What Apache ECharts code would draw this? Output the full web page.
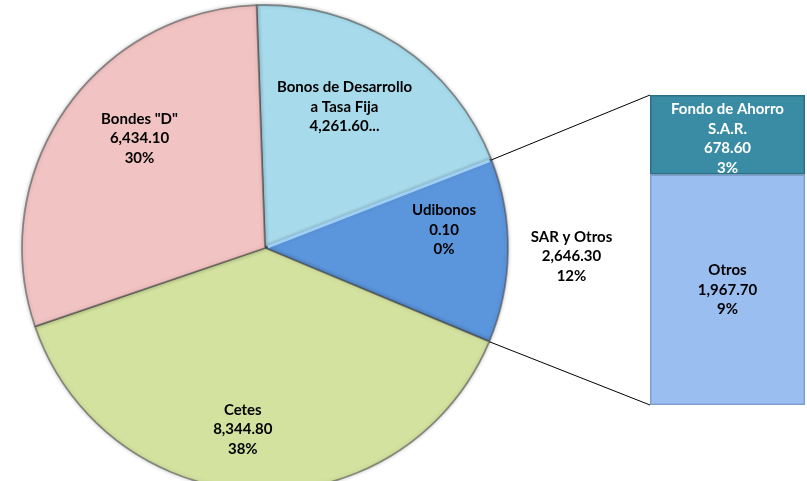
<!DOCTYPE html>
<html lang="es" style="height: 100%">
<head>
    <meta charset="utf-8">
</head>
<body style="height: 100%; margin: 0; background: #fff">
<div id="container" style="width: 807px; height: 481px"></div>

<script type="text/javascript" src="https://fastly.jsdelivr.net/npm/echarts@6/dist/echarts.min.js"></script>

<script type="text/javascript">
    // datos del pastel (orden horario desde arriba)
    var pieNames = ['Bonos de Desarrollo\na Tasa Fija', 'Udibonos', 'SAR y Otros', 'Cetes', 'Bondes "D"'];
    var pieValues = [4261.6, 0.1, 2646.3, 8344.8, 6434.1];
    var pieColors = ['#a7dbec', '#9fd0f3', '#5b95dc', '#d3e29f', '#f1c3c2'];
    // etiquetas cortadas en el original
    var cutLabels = ['Bonos de Desarrollo\na Tasa Fija'];

    // desglose de "SAR y Otros"
    var barNames = ['Otros', 'Fondo de Ahorro\nS.A.R.'];
    var barValues = [1967.7, 678.6];
    var barColors = ['#9bbef0', '#3a8ca5'];

    // ajuste de la posicion de etiquetas (dx, dy)
    var labelShift = [[5.5, -18.5], [31.5, 13.5], [91, 3.5], [-9, 28.5], [-11.5, -19.5]];

    var total = pieValues.reduce(function (a, b) { return a + b; }, 0);

    function fmt(v) {
        return v.toLocaleString('en-US', {minimumFractionDigits: 2, maximumFractionDigits: 2});
    }

    var dom = document.getElementById('container');
    var myChart = echarts.init(dom, null, {renderer: 'canvas'});

    var pieData = pieNames.map(function (n, i) {
        return {
            name: n,
            value: pieValues[i],
            itemStyle: {color: pieColors[i]}
        };
    });

    var barSeries = barNames.map(function (n, i) {
        return {
            type: 'bar',
            name: n,
            stack: 'sar',
            barWidth: '100%',
            xAxisIndex: 0,
            yAxisIndex: 0,
            data: [barValues[i]],
            itemStyle: {
                color: barColors[i],
                borderColor: i === 1 ? '#2c6f85' : '#7c9fcf',
                borderWidth: 1.5
            },
            label: {
                show: true,
                position: 'inside',
                offset: [0, i === 1 ? 4 : 0],
                color: i === 1 ? '#ffffff' : '#000000',
                fontFamily: 'Lato',
                fontWeight: 'bold',
                fontSize: 15,
                lineHeight: 19.5,
                formatter: function (p) {
                    return p.seriesName + '\n' + fmt(p.value) + '\n' + Math.round(p.value / total * 100) + '%';
                }
            }
        };
    });

    var option = {
        animation: false,
        grid: {left: 650, top: 95, width: 155, height: 310},
        xAxis: {type: 'category', data: ['SAR'], show: false},
        yAxis: {type: 'value', min: 0, max: barValues[0] + barValues[1], show: false},
        series: [
            {
                type: 'pie',
                center: [265, 248],
                radius: 243,
                startAngle: 92,
                clockwise: true,
                silent: true,
                data: pieData,
                itemStyle: {
                    borderColor: 'rgba(70,70,70,0.55)',
                    borderWidth: 1.8,
                    shadowBlur: 4,
                    shadowColor: 'rgba(0,0,0,0.25)'
                },
                label: {
                    show: true,
                    position: 'inside',
                    color: '#000',
                    fontFamily: 'Lato',
                    fontWeight: 'bold',
                    fontSize: 15,
                    lineHeight: 19.5,
                    formatter: function (p) {
                        if (cutLabels.indexOf(p.name) >= 0) {
                            return p.name + '\n' + fmt(p.value) + '...';
                        }
                        return p.name + '\n' + fmt(p.value) + '\n' + Math.round(p.percent) + '%';
                    }
                },
                labelLine: {show: false},
                labelLayout: function (params) {
                    var s = labelShift[params.dataIndex];
                    return {dx: s[0], dy: s[1]};
                }
            }
        ].concat(barSeries)
    };

    myChart.setOption(option);

    // lineas que unen la rebanada "SAR y Otros" con la barra
    var model = myChart.getModel();
    var pieData0 = model.getSeriesByIndex(0).getData();
    var sar = pieData0.getItemLayout(2);
    var udi = pieData0.getItemLayout(1);
    var topBar = model.getSeriesByIndex(2).getData().getItemLayout(0);
    var lowBar = model.getSeriesByIndex(1).getData().getItemLayout(0);
    var a1 = Math.min(sar.startAngle, sar.endAngle);
    var a2 = Math.max(sar.startAngle, sar.endAngle);
    var barLeft = Math.min(topBar.x, topBar.x + topBar.width);
    var barTop = Math.min(topBar.y, topBar.y + topBar.height);
    var barBottom = Math.max(lowBar.y, lowBar.y + lowBar.height);

    myChart.setOption({
        graphic: [
            {
                // franja clara de la rebanada de Udibonos
                type: 'line',
                silent: true,
                z: 5,
                shape: {
                    x1: udi.cx + 3 * Math.cos(a1), y1: udi.cy + 3 * Math.sin(a1),
                    x2: udi.cx + (udi.r - 2) * Math.cos(a1), y2: udi.cy + (udi.r - 2) * Math.sin(a1)
                },
                style: {stroke: pieColors[1], lineWidth: 3}
            },
            {
                type: 'line',
                silent: true,
                shape: {
                    x1: sar.cx + sar.r * Math.cos(a1), y1: sar.cy + sar.r * Math.sin(a1),
                    x2: barLeft, y2: barTop
                },
                style: {stroke: '#000', lineWidth: 1}
            },
            {
                type: 'line',
                silent: true,
                shape: {
                    x1: sar.cx + sar.r * Math.cos(a2), y1: sar.cy + sar.r * Math.sin(a2),
                    x2: barLeft, y2: barBottom
                },
                style: {stroke: '#000', lineWidth: 1}
            }
        ]
    });

    window.addEventListener('resize', myChart.resize);
</script>
</body>
</html>
